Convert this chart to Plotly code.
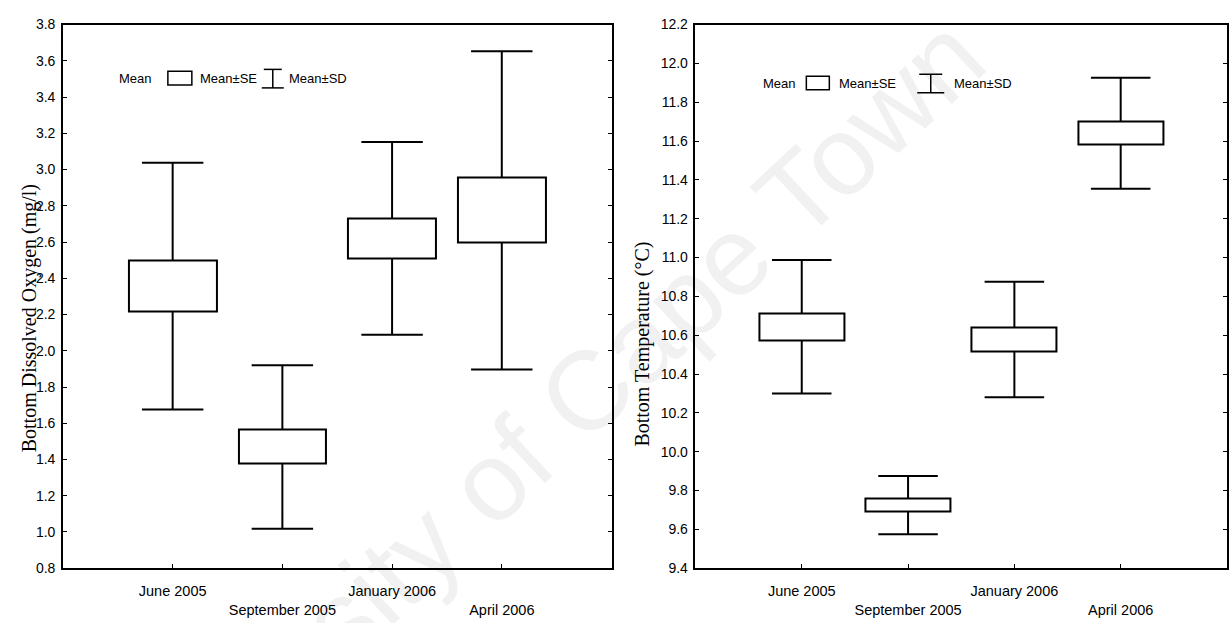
import plotly.graph_objects as go

# ---------------- data ----------------
categories = ["June 2005", "September 2005", "January 2006", "April 2006"]
tick_text = ["June 2005", "<br>September 2005", "January 2006", "<br>April 2006"]
x_pos = [1, 2, 3, 4]

oxy_mean = [2.357, 1.469, 2.620, 2.775]
oxy_se = [0.142, 0.094, 0.110, 0.179]
oxy_sd = [0.681, 0.451, 0.532, 0.878]

temp_mean = [10.644, 9.725, 10.578, 11.640]
temp_se = [0.070, 0.032, 0.060, 0.058]
temp_sd = [0.344, 0.150, 0.298, 0.286]

oxy_ticks = [0.8, 1.0, 1.2, 1.4, 1.6, 1.8, 2.0, 2.2, 2.4, 2.6, 2.8, 3.0, 3.2, 3.4, 3.6, 3.8]
temp_ticks = [9.4, 9.6, 9.8, 10.0, 10.2, 10.4, 10.6, 10.8, 11.0, 11.2, 11.4, 11.6, 11.8, 12.0, 12.2]

W, H = 1229, 623
BOX_W = 0.8
CAP_HALF = 0.28
FONT = "Arial, Liberation Sans, sans-serif"

fig = go.Figure()


def add_panel(means, ses, sds, xa, ya):
    fig.add_trace(go.Bar(
        x=x_pos, base=[m - s for m, s in zip(means, ses)], y=[2 * s for s in ses],
        width=BOX_W, marker=dict(color="white", line=dict(color="black", width=2)),
        xaxis=xa, yaxis=ya, showlegend=False, hoverinfo="skip"))
    wx, wy = [], []
    for x, m, se, sd in zip(x_pos, means, ses, sds):
        wx += [x, x, None, x - CAP_HALF, x + CAP_HALF, None]
        wy += [m + se, m + sd, None, m + sd, m + sd, None]
        wx += [x, x, None, x - CAP_HALF, x + CAP_HALF, None]
        wy += [m - se, m - sd, None, m - sd, m - sd, None]
    fig.add_trace(go.Scatter(x=wx, y=wy, mode="lines", line=dict(color="black", width=2),
                             xaxis=xa, yaxis=ya, showlegend=False, hoverinfo="skip"))


add_panel(oxy_mean, oxy_se, oxy_sd, "x", "y")
add_panel(temp_mean, temp_se, temp_sd, "x2", "y2")

ydom = [48 / H, 606 / H]
common_x = dict(range=[0, 5], tickvals=x_pos, ticktext=tick_text, ticks="inside", ticklen=4,
                tickcolor="black", showline=True, linecolor="black", linewidth=1.5, mirror=True,
                showgrid=False, zeroline=False, tickfont=dict(family=FONT, size=14.5, color="black"),
                ticklabelstandoff=9)
common_y = dict(ticks="inside", ticklen=4, tickcolor="black", showline=True, linecolor="black",
                linewidth=1.5, mirror="ticks", showgrid=False, zeroline=False, tickformat=".1f",
                tickfont=dict(family=FONT, size=14, color="black"), domain=ydom, ticklabelstandoff=3)

fig.update_layout(
    width=W, height=H, margin=dict(l=0, r=0, t=0, b=0),
    paper_bgcolor="white", plot_bgcolor="rgba(0,0,0,0)", bargap=0,
    xaxis=dict(common_x, domain=[63 / W, 612 / W], anchor="y"),
    yaxis=dict(common_y, range=[0.8, 3.8], tickvals=oxy_ticks, anchor="x"),
    xaxis2=dict(common_x, domain=[696 / W, 1228 / W], anchor="y2"),
    yaxis2=dict(common_y, range=[9.4, 12.2], tickvals=temp_ticks, anchor="x2"),
)

# watermark (behind the plots)
cx, cy = 560, 495
fig.add_shape(type="line", xref="paper", yref="paper",
              x0=(cx - 10) / W, y0=1 - (cy + 10) / H, x1=(cx + 10) / W, y1=1 - (cy - 10) / H,
              line=dict(color="rgba(0,0,0,0)", width=0), layer="below",
              label=dict(text="University of Cape Town", textangle=-43, textposition="middle",
                         font=dict(family=FONT, size=112, color="#f1f1f1")))

# y-axis titles
fig.add_annotation(text="Bottom Dissolved Oxygen (mg/l)", xref="paper", yref="paper",
                   x=16 / W, y=1 - 318 / H, textangle=-90, showarrow=False,
                   font=dict(family="Liberation Serif, Times New Roman, serif", size=20, color="black"))
fig.add_annotation(text="Bottom Temperature (°C)", xref="paper", yref="paper",
                   x=643 / W, y=1 - 345 / H, textangle=-90, showarrow=False,
                   font=dict(family="Liberation Serif, Times New Roman, serif", size=20, color="black"))


def legend(x_mean, box_x0, box_x1, x_se, beam_x0, beam_x1, x_sd, yc):
    tf = dict(family=FONT, size=13, color="black")
    for txt, xl in (("Mean", x_mean), ("Mean±SE", x_se), ("Mean±SD", x_sd)):
        fig.add_annotation(text=txt, xref="paper", yref="paper", x=xl / W, y=1 - yc / H,
                           xanchor="left", yanchor="middle", showarrow=False, font=tf)
    fig.add_shape(type="rect", xref="paper", yref="paper", x0=box_x0 / W, x1=box_x1 / W,
                  y0=1 - (yc + 7) / H, y1=1 - (yc - 7) / H, line=dict(color="black", width=1.5),
                  fillcolor="white")
    bm = (beam_x0 + beam_x1) / 2
    for (xa0, xa1, ya0, ya1) in ((beam_x0 + 2, beam_x1 - 2, yc - 9, yc - 9),
                                 (beam_x0, beam_x1, yc + 10, yc + 10),
                                 (bm, bm, yc - 9, yc + 10)):
        fig.add_shape(type="line", xref="paper", yref="paper", x0=xa0 / W, x1=xa1 / W,
                      y0=1 - ya0 / H, y1=1 - ya1 / H, line=dict(color="black", width=1.5))


legend(117, 168, 192, 198, 262, 284, 287, 72)
legend(762, 807, 830, 838, 918, 945, 953, 77)

fig.write_html("out.html")
